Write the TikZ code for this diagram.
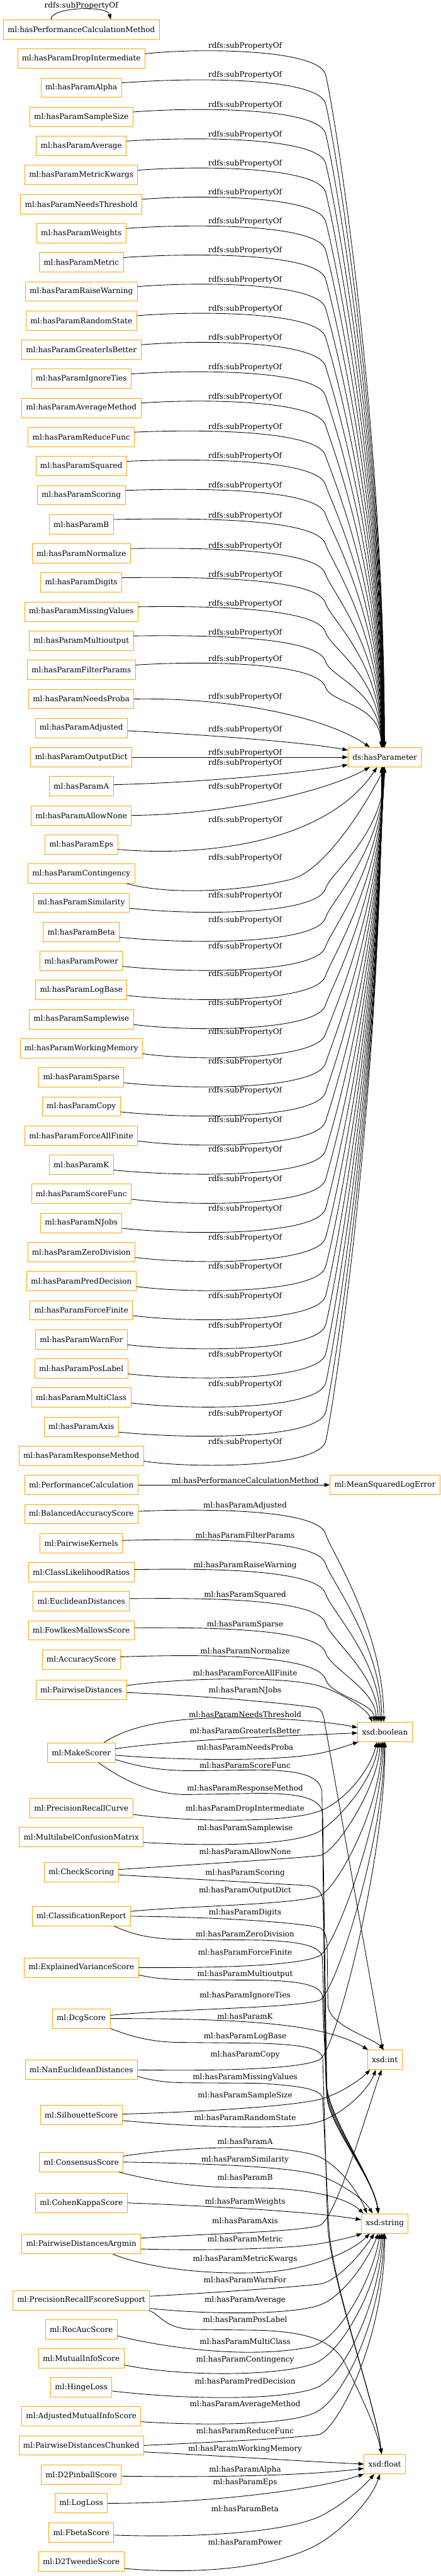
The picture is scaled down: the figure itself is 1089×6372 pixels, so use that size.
\documentclass[tikz,border=0pt]{standalone}
\usepackage{fontspec}
\setmainfont{DejaVu Serif}
\usetikzlibrary{arrows.meta,calc}
\definecolor{boxorange}{HTML}{FFA500}

\begin{document}
\begin{tikzpicture}[x=0.75pt,y=-0.75pt,
    box/.style={draw=boxorange,line width=1pt,minimum height=36pt,inner xsep=8pt,inner ysep=4pt,font=\fontsize{14}{16}\selectfont},
    lbl/.style={inner sep=0pt,font=\fontsize{14}{16}\selectfont},
    link/.style={draw=black,line width=1pt,-{Triangle[length=10pt,width=7pt]}}]
		%%%%% START %%%%%
		\useasboundingbox (0,0) rectangle (1089,6372);
		
		%%%%% property nodes %%%%%
		\node[box] (perfMethod) at (201,73) {ml:hasPerformanceCalculationMethod};
		\foreach \nm [count=\i] in {DropIntermediate,Alpha,SampleSize,Average,MetricKwargs,NeedsThreshold,Weights,Metric,RaiseWarning,RandomState,GreaterIsBetter,IgnoreTies,AverageMethod,ReduceFunc,Squared,Scoring,B,Normalize,Digits,MissingValues,Multioutput,FilterParams,NeedsProba,Adjusted,OutputDict,A,AllowNone,Eps,Contingency,Similarity,Beta,Power,LogBase,Samplewise,WorkingMemory,Sparse,Copy,ForceAllFinite,K,ScoreFunc,NJobs,ZeroDivision,PredDecision,ForceFinite,WarnFor,PosLabel,MultiClass,Axis,ResponseMethod}
		\node[box] (p\nm) at (201,{73+\i*72}) {ml:hasParam\nm};
		
		%%%%% class nodes %%%%%
		\node[box] (cPerformanceCalculation) at (201,3673) {ml:PerformanceCalculation};
		\foreach \nm/\y in {BalancedAccuracyScore/3745,PairwiseKernels/3817,ClassLikelihoodRatios/3889,EuclideanDistances/3961,FowlkesMallowsScore/4033,AccuracyScore/4105,PairwiseDistances/4180,MakeScorer/4335,PrecisionRecallCurve/4472,MultilabelConfusionMatrix/4544,CheckScoring/4631,ClassificationReport/4740,ExplainedVarianceScore/4867,DcgScore/4993,NanEuclideanDistances/5120,SilhouetteScore/5232,ConsensusScore/5348,CohenKappaScore/5449,PairwiseDistancesArgmin/5551,PrecisionRecallFscoreSupport/5690,RocAucScore/5762,MutualInfoScore/5834,HingeLoss/5905,AdjustedMutualInfoScore/5977,PairwiseDistancesChunked/6049,D2PinballScore/6121,LogLoss/6192,FbetaScore/6264,D2TweedieScore/6336}
		\node[box] (c\nm) at (201,\y) {ml:\nm};
		
		%%%%% right column %%%%%
		\node[box] (hasParameter) at (951.5,1873) {ds:hasParameter};
		\node[box] (msle) at (952,3673) {ml:MeanSquaredLogError};
		\node[box] (boolean) at (952,4284) {xsd:boolean};
		\node[box] (int) at (951.5,5095) {xsd:int};
		\node[box] (string) at (951.5,5500) {xsd:string};
		\node[box] (float) at (951.5,6095) {xsd:float};
		
		%%%%% subPropertyOf %%%%%
		\draw[link] ([xshift=-56pt]perfMethod.north) .. controls (122,18) and (265,12) .. ([xshift=54.75pt]perfMethod.north);
		\node[lbl] at (201,14) {rdfs:subPropertyOf};
		
		\foreach \nm/\ly [count=\k] in {DropIntermediate/114,Alpha/186,SampleSize/260,Average/333,MetricKwargs/405,NeedsThreshold/477,Weights/548,Metric/620,RaiseWarning/692,RandomState/764,GreaterIsBetter/836,IgnoreTies/909,AverageMethod/982,ReduceFunc/1057,Squared/1129,Scoring/1202,B/1276,Normalize/1350,Digits/1422,MissingValues/1494,Multioutput/1566,FilterParams/1630}{
			\draw[link] ([yshift=9pt]p\nm.east) .. controls (480,\ly+5) and (785,\ly+5) .. (805,\ly+70) .. controls (817,\ly+110) and ({949-0.4*\k},{(\ly+1849)/2}) .. ($(hasParameter.north)+({-0.4*\k},0)$);
			\node[lbl] at (606,\ly) {rdfs:subPropertyOf};
		}
		
		\draw[link] (pNeedsProba.east) .. controls (560,1725) and (800,1770) .. ($(hasParameter.north)+(-37,0)$);
		\node[lbl] at (606,1724) {rdfs:subPropertyOf};
		\draw[link] ([yshift=-5pt]pAdjusted.east) .. controls (560,1820) and (780,1840) .. ([yshift=13pt]hasParameter.west);
		\node[lbl] at (606,1805) {rdfs:subPropertyOf};
		\draw[link] (pOutputDict) -- (hasParameter);
		\node[lbl] at (606,1862) {rdfs:subPropertyOf};
		\draw[link] ([yshift=3pt]pA.east) .. controls (520,1935) and (760,1910) .. ([yshift=-14pt]hasParameter.west);
		\node[lbl] at (606,1888) {rdfs:subPropertyOf};
		\draw[link] (pAllowNone.east) .. controls (560,2015) and (800,1960) .. ($(hasParameter.south)+(-37,0)$);
		\node[lbl] at (606,1946) {rdfs:subPropertyOf};
		\draw[link] ([yshift=-9pt]pEps.east) .. controls (480,2118) and (800,2095) .. ($(hasParameter.south)+(-19,0)$);
		\node[lbl] at (606,2029) {rdfs:subPropertyOf};
		\draw[link] ([xshift=-15pt]pContingency.south east) .. controls (420,2215) and (600,2205) .. (720,2175) .. controls (800,2155) and (900,2000) .. (hasParameter.south);
		\node[lbl] at (606,2122) {rdfs:subPropertyOf};
		
		\foreach \nm/\c/\ly [count=\k] in {Similarity/2233/2216,Beta/2305/2276,Power/2377/2341,LogBase/2449/2410,Samplewise/2521/2481,WorkingMemory/2593/2553,Sparse/2665/2626,Copy/2737/2698,ForceAllFinite/2809/2771,K/2881/2844,ScoreFunc/2953/2917,NJobs/3025/2990,ZeroDivision/3097/3062,PredDecision/3169/3134,ForceFinite/3241/3206,WarnFor/3313/3280,PosLabel/3385/3352,MultiClass/3457/3424,Axis/3529/3497,ResponseMethod/3601/3568}{
			\draw[link] ([yshift=-10pt]p\nm.east) .. controls (480,\c+32) and (785,\c+30) .. (805,\c-35) .. controls (817,\c-75) and ({949-0.4*\k},{(\c+1897)/2}) .. ($(hasParameter.south)+({-0.4*\k},0)$);
			\node[lbl] at (606,\ly) {rdfs:subPropertyOf};
		}
		
		%%%%% performance calculation %%%%%
		\draw[link] (cPerformanceCalculation) -- (msle);
		\node[lbl] at (606,3662) {ml:hasPerformanceCalculationMethod};
		
		%%%%% parameters -> xsd:boolean (from above) %%%%%
		\foreach \nm/\prop/\ly/\dx in {BalancedAccuracyScore/Adjusted/3724/-3,PairwiseKernels/FilterParams/3798/-8,ClassLikelihoodRatios/RaiseWarning/3872/-12,EuclideanDistances/Squared/3945/-17,FowlkesMallowsScore/Sparse/4018/-22,AccuracyScore/Normalize/4084/-27}{
			\draw[link] ([yshift=5pt]c\nm.east) .. controls (480,\ly+8) and (785,\ly+6) .. (805,\ly+70) .. controls (817,\ly+110) and ({951.5+\dx},{(\ly+4260)/2+40}) .. ($(boolean.north)+(\dx,0)$);
			\node[lbl] at (606,\ly) {ml:hasParam\prop};
		}
		\draw[link] ([yshift=8pt]cPairwiseDistances.east) .. controls (450,4150) and (700,4145) .. (789,4170) .. controls (840,4185) and (905,4225) .. ($(boolean.north)+(-31,0)$);
		\node[lbl] at (606,4138) {ml:hasParamForceAllFinite};
		\draw[link] ([yshift=-5pt]cPairwiseDistances.east) .. controls (480,4193) and (700,4212) .. (780,4224) .. controls (795,4227) and (800,4240) .. (803,4262) -- ($(int.north)+(-5,0)$);
		\node[lbl] at (606,4182) {ml:hasParamNJobs};
		
		%%%%% make scorer %%%%%
		\draw[link] ([xshift=42pt]cMakeScorer.north) .. controls (330,4262) and (450,4247) .. (600,4249) .. controls (720,4251) and (820,4260) .. ([yshift=8pt]boolean.west);
		\node[lbl] at (606,4240) {ml:hasParamNeedsThreshold};
		\draw[link] ([yshift=7pt]cMakeScorer.east) .. controls (450,4302) and (750,4292) .. ([yshift=-2pt]boolean.west);
		\node[lbl] at (606,4281) {ml:hasParamGreaterIsBetter};
		\draw[link] ([yshift=-5pt]cMakeScorer.east) .. controls (450,4355) and (700,4358) .. (800,4335) .. controls (840,4325) and (870,4314) .. ($(boolean.south west)+(2,0)$);
		\node[lbl] at (606,4322) {ml:hasParamNeedsProba};
		\draw[link] ([yshift=-13pt]cMakeScorer.east) .. controls (350,4372) and (400,4380) .. (480,4380) -- (640,4378) .. controls (750,4379) and (790,4395) .. (796,4430) -- (806,5150) .. controls (812,5240) and (925,5390) .. ($(string.north)+(-16,0)$);
		\node[lbl] at (606,4366) {ml:hasParamScoreFunc};
		\draw[link] ([xshift=31.5pt]cMakeScorer.south) .. controls (300,4400) and (370,4438) .. (460,4439) -- (640,4436) .. controls (750,4436) and (792,4450) .. (798,4485) -- (808,5160) .. controls (814,5245) and (925,5390) .. ($(string.north)+(-16,0)$);
		\node[lbl] at (606,4424) {ml:hasParamResponseMethod};
		
		%%%%% xsd:boolean (from below) %%%%%
		\draw[link] ([yshift=-12pt]cPrecisionRecallCurve.east) .. controls (450,4505) and (700,4512) .. (790,4480) .. controls (850,4458) and (915,4380) .. ($(boolean.south)+(-20,0)$);
		\node[lbl] at (606,4474) {ml:hasParamDropIntermediate};
		\draw[link] ([yshift=-10pt]cMultilabelConfusionMatrix.east) .. controls (500,4566) and (720,4568) .. (790,4530) .. controls (840,4500) and (925,4400) .. ($(boolean.south)+(-16,0)$);
		\node[lbl] at (606,4522) {ml:hasParamSamplewise};
		\draw[link] ([yshift=5pt]cCheckScoring.east) .. controls (500,4611) and (740,4596) .. (790,4590) .. controls (830,4585) and (935,4420) .. ($(boolean.south)+(-12,0)$);
		\node[lbl] at (606,4580) {ml:hasParamAllowNone};
		\draw[link] ([yshift=-5pt]cCheckScoring.east) -- (760,4664) .. controls (785,4667) and (797,4680) .. (799,4705) -- (808,5170) .. controls (814,5250) and (925,5390) .. ($(string.north)+(-16,0)$);
		\node[lbl] at (606,4633) {ml:hasParamScoring};
		\draw[link] ([yshift=9pt]cClassificationReport.east) .. controls (450,4715) and (720,4712) .. (790,4690) .. controls (830,4675) and (940,4480) .. ($(boolean.south)+(-8,0)$);
		\node[lbl] at (606,4677) {ml:hasParamOutputDict};
		\draw[link] (cClassificationReport.east) .. controls (550,4742) and (740,4756) .. (789,4768) .. controls (803,4772) and (808,4790) .. (809,4815) -- (811,4960) .. controls (812,5010) and (920,5040) .. ($(int.north)+(-2,0)$);
		\node[lbl] at (606,4731) {ml:hasParamDigits};
		\draw[link] ([xshift=61.5pt]cClassificationReport.south) .. controls (330,4787) and (380,4796) .. (440,4797) -- (640,4799) .. controls (750,4802) and (790,4815) .. (797,4840) -- (808,5180) .. controls (814,5255) and (925,5390) .. ($(string.north)+(-16,0)$);
		\node[lbl] at (606,4784) {ml:hasParamZeroDivision};
		\draw[link] (cExplainedVarianceScore.east) .. controls (550,4868) and (740,4862) .. (790,4838) .. controls (830,4815) and (945,4500) .. ($(boolean.south)+(-5,0)$);
		\node[lbl] at (606,4829) {ml:hasParamForceFinite};
		\draw[link] ([yshift=-13.5pt]cExplainedVarianceScore.east) .. controls (380,4894) and (420,4897) .. (470,4897) -- (640,4898) .. controls (750,4900) and (790,4912) .. (797,4935) -- (808,5185) .. controls (814,5260) and (925,5390) .. ($(string.north)+(-16,0)$);
		\node[lbl] at (606,4884) {ml:hasParamMultioutput};
		\draw[link] ([yshift=6pt]cDcgScore.east) .. controls (450,4968) and (720,4968) .. (790,4948) .. controls (830,4930) and (950,4550) .. ($(boolean.south)+(-2,0)$);
		\node[lbl] at (606,4936) {ml:hasParamIgnoreTies};
		\draw[link] (cDcgScore.east) .. controls (600,4993) and (800,5005) .. ($(int.north west)+(2,0)$);
		\node[lbl] at (606,4987) {ml:hasParamK};
		\draw[link] (cDcgScore.south east) .. controls (330,5040) and (380,5051) .. (440,5052) -- (640,5054) .. controls (750,5058) and (792,5066) .. (798,5090) -- (810,5500) .. controls (816,5640) and (930,5950) .. ($(float.north)+(-8,0)$);
		\node[lbl] at (606,5037) {ml:hasParamLogBase};
		\draw[link] (cNanEuclideanDistances.east) .. controls (550,5123) and (740,5118) .. (790,5095) .. controls (830,5075) and (952,4600) .. (boolean.south);
		\node[lbl] at (606,5082) {ml:hasParamCopy};
		\draw[link] ([yshift=-12pt]cNanEuclideanDistances.east) .. controls (380,5148) and (420,5152) .. (470,5152) -- (640,5153) .. controls (750,5160) and (792,5168) .. (798,5190) -- (813,5505) .. controls (819,5645) and (930,5950) .. ($(float.north)+(-8,0)$);
		\node[lbl] at (606,5138) {ml:hasParamMissingValues};
		
		%%%%% xsd:int (from below) %%%%%
		\draw[link] ([yshift=2pt]cSilhouetteScore.east) .. controls (500,5224) and (720,5210) .. (790,5193) .. controls (840,5180) and (890,5145) .. ($(int.south)+(-36,0)$);
		\node[lbl] at (606,5184) {ml:hasParamSampleSize};
		\draw[link] ([yshift=-10pt]cSilhouetteScore.east) .. controls (480,5262) and (720,5270) .. (790,5248) .. controls (850,5228) and (910,5170) .. ($(int.south)+(-22,0)$);
		\node[lbl] at (606,5238) {ml:hasParamRandomState};
		
		%%%%% xsd:string %%%%%
		\draw[link] ([yshift=11pt]cConsensusScore.east) .. controls (450,5310) and (700,5300) .. (790,5335) .. controls (840,5360) and (885,5420) .. ($(string.north)+(-44,0)$);
		\node[lbl] at (606,5297) {ml:hasParamA};
		\draw[link] (cConsensusScore.east) .. controls (550,5352) and (740,5362) .. (796,5383) .. controls (850,5405) and (900,5440) .. ($(string.north)+(-30,0)$);
		\node[lbl] at (606,5342) {ml:hasParamSimilarity};
		\draw[link] ([xshift=-9pt]cConsensusScore.south east) .. controls (400,5400) and (500,5412) .. (628,5412) .. controls (740,5412) and (850,5430) .. ($(string.north west)+(6,0)$);
		\node[lbl] at (606,5386) {ml:hasParamB};
		\draw[link] (cCohenKappaScore.east) .. controls (550,5458) and (780,5472) .. ([yshift=7pt]string.west);
		\node[lbl] at (606,5446) {ml:hasParamWeights};
		\draw[link] ([yshift=11pt]cPairwiseDistancesArgmin.east) .. controls (500,5525) and (730,5522) .. (790,5505) .. controls (830,5490) and (905,5230) .. ($(int.south)+(-8,0)$);
		\node[lbl] at (606,5493) {ml:hasParamAxis};
		\draw[link] ([yshift=-9pt]cPairwiseDistancesArgmin.east) .. controls (520,5568) and (720,5562) .. (790,5550) .. controls (840,5541) and (875,5532) .. ($(string.south west)+(2,0)$);
		\node[lbl] at (606,5538) {ml:hasParamMetric};
		\draw[link] ([xshift=58.5pt]cPairwiseDistancesArgmin.south) .. controls (350,5605) and (480,5625) .. (620,5622) .. controls (760,5620) and (870,5570) .. ($(string.south)+(-37,0)$);
		\node[lbl] at (606,5589) {ml:hasParamMetricKwargs};
		\draw[link] ([yshift=7.5pt]cPrecisionRecallFscoreSupport.east) .. controls (550,5670) and (740,5656) .. (790,5650) .. controls (830,5645) and (890,5580) .. ($(string.south)+(-26,0)$);
		\node[lbl] at (606,5639) {ml:hasParamWarnFor};
		\draw[link] ([yshift=-15pt]cPrecisionRecallFscoreSupport.east) .. controls (520,5726) and (720,5726) .. (790,5702) .. controls (850,5680) and (910,5590) .. ($(string.south)+(-16,0)$);
		\node[lbl] at (606,5690) {ml:hasParamAverage};
		\draw[link] ($(cPrecisionRecallFscoreSupport.south east)+(-3,0)$) .. controls (400,5727) and (405,5760) .. (480,5762) -- (640,5764) .. controls (760,5768) and (820,5790) .. (850,5840) .. controls (880,5900) and (930,6000) .. ($(float.north)+(-8,0)$);
		\node[lbl] at (606,5738) {ml:hasParamPosLabel};
		\draw[link] ([yshift=-12pt]cRocAucScore.east) .. controls (420,5810) and (620,5835) .. (770,5805) .. controls (850,5780) and (925,5620) .. ($(string.south)+(-12,0)$);
		\node[lbl] at (606,5792) {ml:hasParamMultiClass};
		\draw[link] ([yshift=-12pt]cMutualInfoScore.east) .. controls (450,5880) and (700,5878) .. (780,5845) .. controls (850,5815) and (935,5650) .. ($(string.south)+(-8,0)$);
		\node[lbl] at (606,5837) {ml:hasParamContingency};
		\draw[link] ([yshift=-7pt]cHingeLoss.east) .. controls (450,5935) and (700,5940) .. (785,5905) .. controls (860,5870) and (940,5680) .. ($(string.south)+(-5,0)$);
		\node[lbl] at (606,5889) {ml:hasParamPredDecision};
		\draw[link] ([yshift=-10pt]cAdjustedMutualInfoScore.east) .. controls (500,6000) and (720,6000) .. (785,5965) .. controls (860,5920) and (945,5720) .. ($(string.south)+(-2,0)$);
		\node[lbl] at (606,5947) {ml:hasParamAverageMethod};
		\draw[link] (cPairwiseDistancesChunked.east) .. controls (550,6040) and (740,6030) .. (790,6022) .. controls (830,6010) and (950,5800) .. (string.south);
		\node[lbl] at (606,6012) {ml:hasParamReduceFunc};
		
		%%%%% xsd:float %%%%%
		\draw[link] ([yshift=-12pt]cPairwiseDistancesChunked.east) .. controls (550,6075) and (780,6090) .. (float.west);
		\node[lbl] at (606,6058) {ml:hasParamWorkingMemory};
		\draw[link] ([yshift=-3pt]cD2PinballScore.east) .. controls (500,6128) and (750,6125) .. ([yshift=-8pt]float.west);
		\node[lbl] at (606,6109) {ml:hasParamAlpha};
		\draw[link] (cLogLoss.east) .. controls (500,6193) and (780,6160) .. (float.south west);
		\node[lbl] at (606,6141) {ml:hasParamEps};
		\draw[link] ([yshift=-5pt]cFbetaScore.east) .. controls (480,6278) and (700,6265) .. (790,6225) .. controls (850,6195) and (900,6150) .. ($(float.south)+(-26,0)$);
		\node[lbl] at (606,6205) {ml:hasParamBeta};
		\draw[link] ([yshift=-13pt]cD2TweedieScore.east) .. controls (500,6370) and (700,6350) .. (800,6285) .. controls (860,6245) and (920,6180) .. ($(float.south)+(-12,0)$);
		\node[lbl] at (606,6288) {ml:hasParamPower};
		
		%%%%% END %%%%%
	\end{tikzpicture}
\end{document}
